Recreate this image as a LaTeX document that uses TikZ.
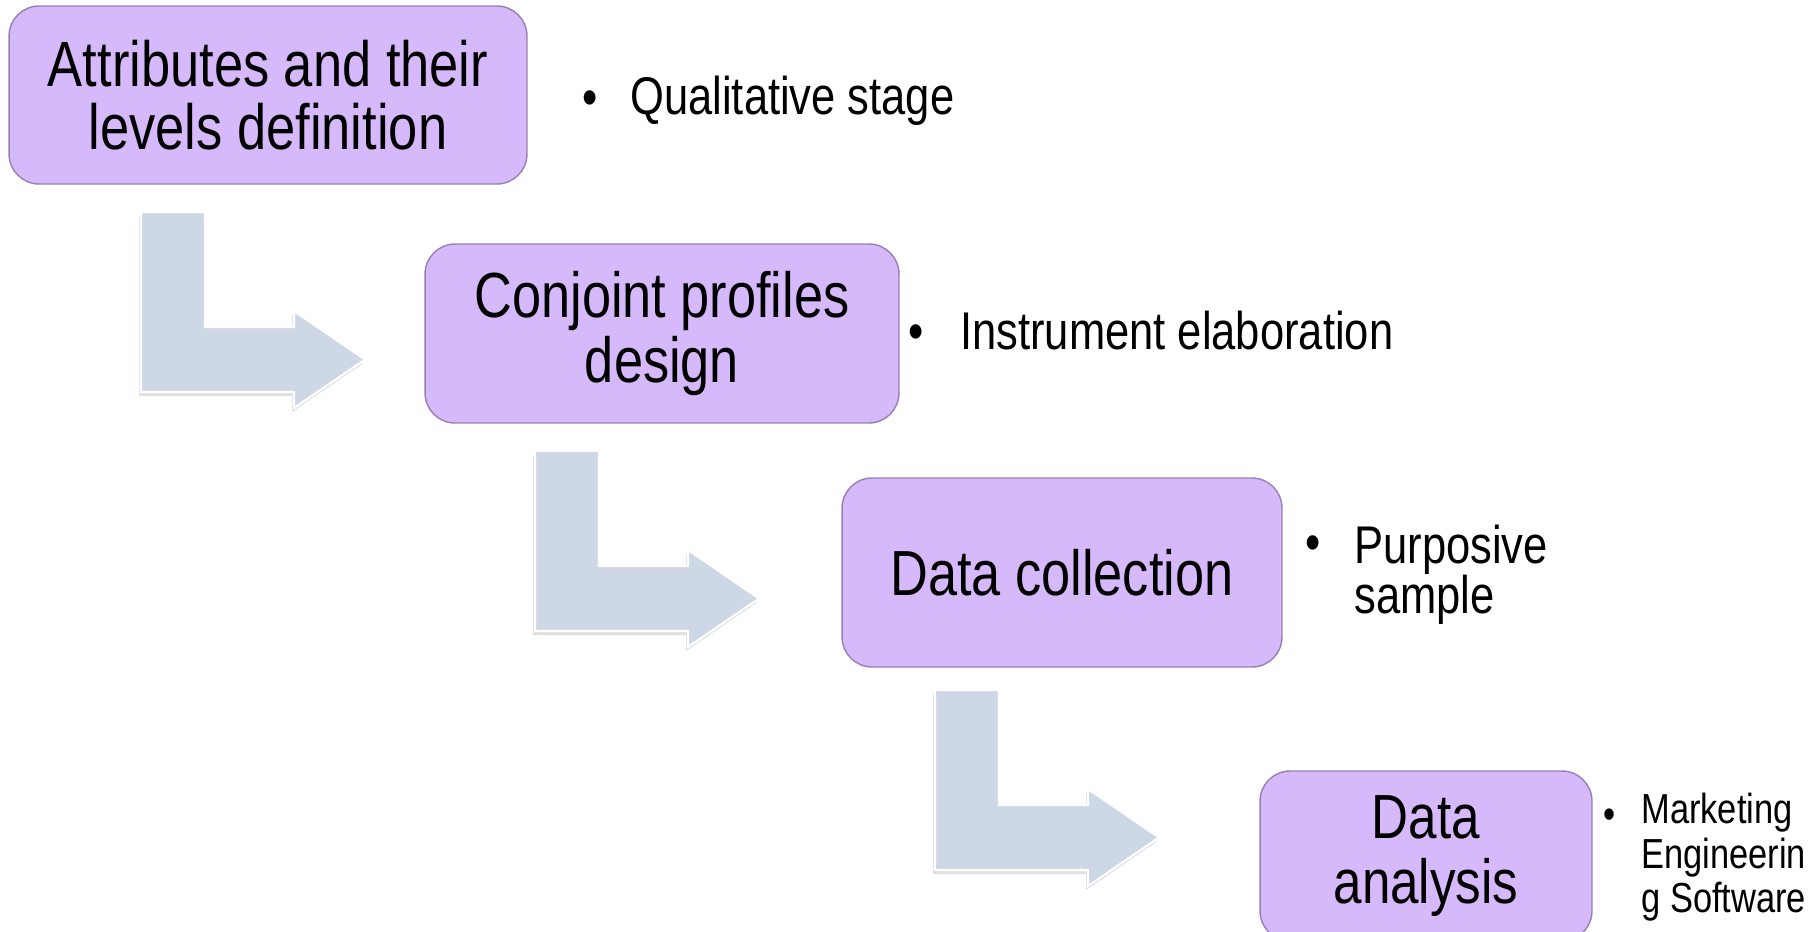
\documentclass[tikz,border=0pt]{standalone}
\usepackage{fontspec}
\setmainfont{Liberation Sans}[FakeStretch=0.82]
\usetikzlibrary{positioning}
\definecolor{stagefill}{RGB}{214,185,251}
\definecolor{stageline}{RGB}{150,128,178}
\definecolor{bendfill}{RGB}{205,215,229}
\tikzstyle{stage}=[draw=stageline,fill=stagefill,rounded corners=0.6cm,line width=0.8pt,align=center,inner sep=0pt]
\tikzstyle{note}=[anchor=north west,align=left,inner sep=0pt]
\tikzstyle{dot}=[inner sep=0pt]
\tikzstyle{bendarrow}=[fill=bendfill,draw=white,line width=1.2pt,line join=miter]
\tikzstyle{bendshadow}=[fill=black,opacity=0.12]

\begin{document}
\begin{tikzpicture}[x=0.02cm,y=-0.02cm]
\clip (0,0) rectangle (1812,931);
\useasboundingbox (0,0) rectangle (1812,931);

% bent arrows between the stages
\foreach \ax/\ay in {141/212, 535/451, 935/690}{
  \begin{scope}[shift={(\ax,\ay)}]
    \fill[bendshadow] (-2,4) -- (62,4) -- (62,119) -- (151,119) -- (151,103) -- (222,151.5) -- (151,200) -- (151,184) -- (-2,184) -- cycle;
    \draw[bendarrow] (0,0) -- (64,0) -- (64,115) -- (153,115) -- (153,99) -- (224,147.5) -- (153,196) -- (153,180) -- (0,180) -- cycle;
  \end{scope}
}

% stages
\node[stage,minimum width=10.36cm,minimum height=3.56cm,
  font=\fontsize{36.4}{36.1}\selectfont] (attr) at (268,95)
  {Attributes and their\\levels definition};
\node[stage,minimum width=9.48cm,minimum height=3.58cm,
  font=\fontsize{36.3}{37}\selectfont] (design) at (662,333.5)
  {Conjoint profiles\\design};
\node[stage,minimum width=8.8cm,minimum height=3.78cm,
  font=\fontsize{36.3}{36.3}\selectfont] (collect) at (1062,572.5)
  {Data collection};
\node[stage,minimum width=6.64cm,minimum height=3.4cm,
  font=\fontsize{35.5}{37}\selectfont] (analysis) at (1426,856)
  {Data\\analysis};

% notes
\node[dot,font=\fontsize{30.2}{30.2}\selectfont] (qual-dot) at (590,103) {\textbullet};
\node[note,font=\fontsize{30.2}{30.2}\selectfont] (qual) at (630,76) {Qualitative stage};
\node[dot,font=\fontsize{30.2}{30.2}\selectfont] (instr-dot) at (916,337) {\textbullet};
\node[note,font=\fontsize{30.2}{30.2}\selectfont] (instr) at (960,311) {Instrument elaboration};
\node[dot,font=\fontsize{30.2}{30.2}\selectfont] (sample-dot) at (1313,548) {\textbullet};
\node[note,font=\fontsize{30.2}{28.2}\selectfont] (sample) at (1354,525) {Purposive\\sample};
\node[dot,font=\fontsize{23.9}{23.9}\selectfont] (soft-dot) at (1610,819) {\textbullet};
\node[note,font=\fontsize{23.9}{25.3}\selectfont] (soft) at (1641,793) {Marketing\\Engineerin\\g Software};
\end{tikzpicture}
\end{document}
